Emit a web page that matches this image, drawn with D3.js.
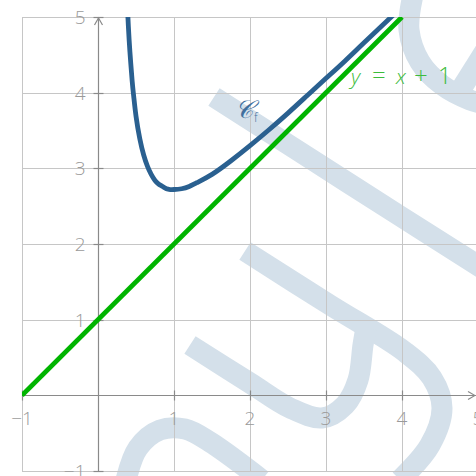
<!DOCTYPE html>
<html>
<head>
<meta charset="utf-8">
<script src="https://cdn.jsdelivr.net/npm/d3@7"></script>
<style>
  html, body { margin: 0; padding: 0; background: #fff; }
  svg { display: block; }
  text { font-family: "Open Sans", "DejaVu Sans", sans-serif; }
</style>
</head>
<body>
<svg id="svg0" width="476" height="476"></svg>
<script>
// values
var tickValues = [-1, 0, 1, 2, 3, 4, 5];
var xTickLabels = ["\u22121", "", "1", "2", "3", "4", "5"];
var yTickLabels = ["\u22121", "", "1", "2", "3", "4", "5"];

// curve C_f, sampled by eye
var curveX = [0.38, 0.4, 0.42, 0.45, 0.47, 0.5, 0.55, 0.6, 0.65, 0.7, 0.75, 0.8, 0.85, 0.9, 0.95, 1, 1.1, 1.2, 1.3, 1.5, 1.75, 2, 2.25, 2.5, 2.75, 3, 3.25, 3.5, 3.9];
var curveY = [5.28, 4.87, 4.54, 4.15, 3.95, 3.69, 3.39, 3.18, 3.03, 2.92, 2.84, 2.79, 2.76, 2.73, 2.72, 2.72, 2.73, 2.76, 2.81, 2.92, 3.10, 3.30, 3.51, 3.73, 3.96, 4.19, 4.42, 4.66, 5.04];

// asymptote y = x + 1
var lineX = [-1, 4];
var lineY = [0, 5];

var vis = d3.select("#svg0");
var W = 476, H = 476;

// scales: x=-1 sits at the left grid border, y=5 at the top one
var x = d3.scaleLinear().domain([-1, 5]).range([22, 478]);
var y = d3.scaleLinear().domain([-1, 5]).range([471, 17]);

// ---- watermark strokes in the background
var wm = vis.append("g")
	.attr("fill", "none")
	.attr("stroke", "#d4e0ea")
	.attr("stroke-width", 21)
	.attr("stroke-linecap", "butt");

var wmStrokes = [
	[[214, 97], [300, 152], [400, 216], [482, 268]],
	[[245, 251], [330, 305], [405, 352], [432, 378], [442, 408], [430, 445], [400, 480]],
	[[190, 345], [250, 383], [290, 408], [322, 418], [345, 405], [358, 380], [363, 345], [366, 328]],
	[[126, 480], [138, 448], [160, 430], [185, 429], [210, 442], [262, 480]],
	[[413, -5], [409, 30], [420, 62], [442, 85], [470, 100], [485, 104]],
	[[458, 94], [492, 40]]
];
var wmLine = d3.line().curve(d3.curveCatmullRom);
wm.selectAll("path")
	.data(wmStrokes)
	.enter()
	.append("path")
	.attr("d", wmLine);

// ---- grid
var grid = vis.append("g").attr("stroke", "#c6c6c6").attr("stroke-width", 1);
grid.selectAll(".vline")
	.data(tickValues)
	.enter()
	.append("line")
	.attr("x1", d => Math.round(x(d)) + 0.5)
	.attr("x2", d => Math.round(x(d)) + 0.5)
	.attr("y1", y(5))
	.attr("y2", y(-1));
grid.selectAll(".hline")
	.data(tickValues)
	.enter()
	.append("line")
	.attr("y1", d => Math.round(y(d)) + 0.5)
	.attr("y2", d => Math.round(y(d)) + 0.5)
	.attr("x1", x(-1))
	.attr("x2", x(5));

// ---- axes with arrows
var axisColor = "#8a8a8a";
var x0 = Math.round(x(0)) + 0.5, y0 = Math.round(y(0)) + 0.5;
var axes = vis.append("g").attr("stroke", axisColor).attr("stroke-width", 1.2).attr("fill", "none");
axes.append("line").attr("x1", x(-1)).attr("x2", W).attr("y1", y0).attr("y2", y0);
axes.append("line").attr("x1", x0).attr("x2", x0).attr("y1", y(-1)).attr("y2", y(5));
// arrow heads
axes.append("path").attr("d", "M" + (W - 8) + "," + (y0 - 4) + " L" + (W - 1) + "," + y0 + " L" + (W - 8) + "," + (y0 + 4));
axes.append("path").attr("d", "M" + (x0 - 4) + "," + (y(5) + 8) + " L" + x0 + "," + (y(5) + 1) + " L" + (x0 + 4) + "," + (y(5) + 8));

// tick marks
axes.selectAll(".xt")
	.data(tickValues.filter(d => d !== 0 && d < 5))
	.enter()
	.append("line")
	.attr("x1", d => Math.round(x(d)) + 0.5)
	.attr("x2", d => Math.round(x(d)) + 0.5)
	.attr("y1", y0 - 5)
	.attr("y2", y0 + 5);
axes.selectAll(".yt")
	.data(tickValues.filter(d => d !== 0))
	.enter()
	.append("line")
	.attr("y1", d => Math.round(y(d)) + 0.5)
	.attr("y2", d => Math.round(y(d)) + 0.5)
	.attr("x1", x0 - 5)
	.attr("x2", x0 + 5);

// tick labels
var labels = vis.append("g")
	.attr("fill", "#9a9a9a")
	.attr("font-size", 19)
	.attr("font-weight", 300);
labels.selectAll(".xl")
	.data(tickValues)
	.enter()
	.append("text")
	.attr("x", d => x(d))
	.attr("y", y0 + 29)
	.attr("text-anchor", "middle")
	.text((d, i) => xTickLabels[i]);
labels.selectAll(".yl")
	.data(tickValues)
	.enter()
	.append("text")
	.attr("x", x0 - 13)
	.attr("y", d => y(d) + 7)
	.attr("text-anchor", "end")
	.text((d, i) => yTickLabels[i]);

// ---- curves, clipped to the window
vis.append("clipPath").attr("id", "plotclip")
	.append("rect")
	.attr("x", x(-1)).attr("y", y(5))
	.attr("width", W - x(-1)).attr("height", y(-1) - y(5));

var plot = vis.append("g").attr("clip-path", "url(#plotclip)");

var line = d3.line()
	.x(d => x(d[0]))
	.y(d => y(d[1]));

plot.append("path")
	.datum(d3.zip(lineX, lineY))
	.attr("fill", "none")
	.attr("stroke", "#00b400")
	.attr("stroke-width", 4.8)
	.attr("d", line);

plot.append("path")
	.datum(d3.zip(curveX, curveY))
	.attr("fill", "none")
	.attr("stroke", "#2a6090")
	.attr("stroke-width", 4.8)
	.attr("stroke-linejoin", "round")
	.attr("d", line.curve(d3.curveNatural));

// ---- curve labels
var cf = vis.append("text")
	.attr("x", 235)
	.attr("y", 118)
	.attr("fill", "#3f6f9e")
	.attr("font-size", 25);
cf.append("tspan").attr("font-family", "DejaVu Serif, serif").attr("font-style", "italic").text("\uD835\uDC9E");
cf.append("tspan").attr("font-size", 12).attr("dy", 4).attr("dx", 1).attr("font-weight", 300).text("f");

// equation, each glyph placed where it sits in the picture
var eqParts = [
	{t: "y", x: 351, it: true},
	{t: "=", x: 372, it: false},
	{t: "x", x: 396, it: true},
	{t: "+", x: 414, it: false},
	{t: "1", x: 438, it: false}
];
vis.append("g")
	.attr("fill", "#3cbc3c")
	.attr("font-size", 21)
	.attr("font-weight", 300)
	.selectAll("text")
	.data(eqParts)
	.enter()
	.append("text")
	.attr("x", d => d.x)
	.attr("y", 84)
	.attr("font-style", d => d.it ? "italic" : "normal")
	.attr("font-size", d => d.it ? 21 : 24)
	.text(d => d.t);
</script>
</body>
</html>
